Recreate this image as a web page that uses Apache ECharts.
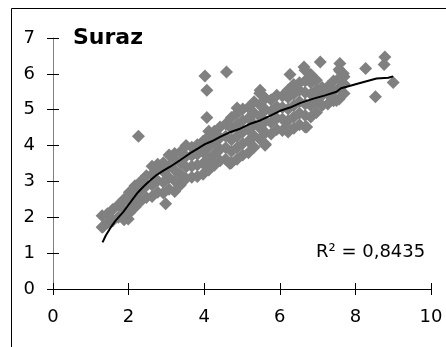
<!DOCTYPE html>
<html><head><meta charset="utf-8">
<script src="https://cdn.jsdelivr.net/npm/echarts@6/dist/echarts.min.js"></script>
<style>html,body{margin:0;padding:0;background:#fff}#c{width:446px;height:347px}</style>
</head><body><div id="c"></div>
<script>
const chartTitle = 'Suraz';
const r2Label = 'R\u00B2 = 0,8435';
const xTicks = [0, 2, 4, 6, 8, 10];
const yTicks = [0, 1, 2, 3, 4, 5, 6, 7];

const points = [
  [1.30,1.72],[1.30,2.04],[1.44,1.84],[1.44,2.10],[1.58,1.90],[1.58,2.22],[1.73,2.00],[1.73,2.34],
  [1.88,1.93],[1.88,2.20],[1.88,2.50],[1.99,1.95],[2.02,2.12],[2.02,2.42],[2.02,2.70],
  [2.17,2.28],[2.17,2.58],[2.17,2.88],[2.32,2.45],[2.32,2.75],[2.32,3.00],
  [2.47,2.55],[2.47,2.88],[2.47,3.16],[2.62,2.58],[2.62,2.90],[2.62,3.20],[2.62,3.42],
  [2.77,2.70],[2.77,3.02],[2.77,3.34],[2.77,3.48],[2.92,2.68],[2.92,2.98],[2.92,3.28],[2.92,3.52],[2.98,2.38],
  [3.07,2.78],[3.07,3.10],[3.07,3.42],[3.07,3.74],[3.22,2.72],[3.22,3.02],[3.22,3.32],[3.22,3.62],[3.22,3.78],
  [3.37,2.90],[3.37,3.20],[3.37,3.52],[3.37,3.82],[3.52,3.08],[3.52,3.40],[3.52,3.70],[3.52,4.00],
  [3.67,3.12],[3.67,3.42],[3.67,3.72],[3.67,3.95],[3.82,3.14],[3.82,3.46],[3.82,3.76],[3.82,4.02],
  [3.97,3.20],[3.97,3.50],[3.97,3.82],[3.97,4.12],[4.12,3.32],[4.12,3.64],[4.12,3.96],[4.12,4.26],[4.12,4.40],
  [4.27,3.45],[4.27,3.76],[4.27,4.08],[4.27,4.40],[4.42,3.58],[4.42,3.90],[4.42,4.22],[4.42,4.52],
  [4.57,3.62],[4.57,3.94],[4.57,4.26],[4.57,4.60],[4.72,3.52],[4.72,3.84],[4.72,4.16],[4.72,4.48],[4.72,4.78],
  [4.87,3.62],[4.87,3.94],[4.87,4.26],[4.87,4.58],[4.87,4.90],[4.87,5.05],
  [5.02,3.74],[5.02,4.06],[5.02,4.38],[5.02,4.70],[5.02,5.02],[5.17,3.80],[5.17,4.12],[5.17,4.44],[5.17,4.76],[5.17,5.06],
  [5.32,3.95],[5.32,4.27],[5.32,4.59],[5.32,4.91],[5.32,5.22],[5.47,4.18],[5.47,4.50],[5.47,4.82],[5.47,5.14],[5.47,5.46],
  [5.62,4.04],[5.62,4.36],[5.62,4.68],[5.62,5.00],[5.62,5.32],[5.77,4.32],[5.77,4.64],[5.77,4.96],[5.77,5.28],
  [5.92,4.45],[5.92,4.76],[5.92,5.08],[5.92,5.40],[6.07,4.42],[6.07,4.74],[6.07,5.06],[6.07,5.38],
  [6.22,4.38],[6.22,4.70],[6.22,5.02],[6.22,5.34],[6.22,5.55],[6.37,4.48],[6.37,4.80],[6.37,5.12],[6.37,5.44],[6.37,5.70],
  [6.52,4.58],[6.52,4.90],[6.52,5.22],[6.52,5.54],[6.52,5.75],[6.67,4.52],[6.67,4.84],[6.67,5.16],[6.67,5.48],[6.67,5.80],[6.67,6.10],
  [6.82,4.80],[6.82,5.12],[6.82,5.44],[6.82,5.76],[6.82,5.98],[6.97,4.92],[6.97,5.24],[6.97,5.56],[6.97,5.82],
  [7.12,5.12],[7.12,5.40],[7.12,5.62],[7.27,5.16],[7.27,5.44],[7.27,5.64],[7.42,5.25],[7.42,5.52],[7.42,5.80],
  [7.57,5.30],[7.57,5.60],[7.57,5.88],[7.57,6.12],[7.70,5.45],[7.70,5.72],[7.70,5.92],
  [2.26,4.26],[4.02,5.94],[4.07,5.54],[4.07,4.78],[4.59,6.05],[7.07,6.33],[8.27,6.15],[8.78,6.47],[8.76,6.26],
  [9.00,5.76],[8.53,5.36],[7.59,6.29],[7.59,6.08],[6.64,6.19],[6.27,5.98],[6.80,5.91],[7.68,6.01],
  [5.48,5.54],[5.61,4.01],[4.68,3.50],[6.18,4.52],[6.71,4.52],[7.50,5.26],[1.33,1.74]
];

// trendline as drawn (x, y)
const trend = [
  [1.31,1.30],[1.40,1.50],[1.51,1.69],[1.65,1.90],[1.86,2.15],[2.00,2.35],[2.12,2.52],[2.25,2.70],
  [2.39,2.85],[2.55,3.01],[2.74,3.18],[2.92,3.30],[3.10,3.41],[3.36,3.59],[3.62,3.78],[3.84,3.92],
  [4.02,4.04],[4.20,4.12],[4.42,4.24],[4.70,4.38],[4.95,4.47],[5.20,4.60],[5.48,4.70],[5.74,4.83],
  [6.01,4.97],[6.27,5.06],[6.55,5.19],[6.89,5.31],[7.20,5.40],[7.50,5.50],[7.62,5.60],[7.77,5.64],
  [8.10,5.74],[8.56,5.87],[8.87,5.89],[9.00,5.93]
];

const FONT = 'DejaVu Sans';
const chart = echarts.init(document.getElementById('c'), null, {renderer: 'canvas'});
const xMin = xTicks[0], xMax = xTicks[xTicks.length - 1], xStep = xTicks[1] - xTicks[0];
const yMin = yTicks[0], yMax = yTicks[yTicks.length - 1], yStep = yTicks[1] - yTicks[0];
const tickStyle = {color: '#000', width: 1};

chart.setOption({
  animation: false,
  backgroundColor: '#fff',
  title: [
    {text: chartTitle, left: 73, top: 27, padding: 0,
     textStyle: {fontFamily: FONT, fontWeight: 'bold', fontSize: 22, color: '#000'}},
    {text: r2Label, left: 316, top: 243, padding: 0,
     textStyle: {fontFamily: FONT, fontWeight: 'normal', fontSize: 18, color: '#000'}}
  ],
  grid: {left: 53, right: 15, top: 38, bottom: 58, containLabel: false},
  graphic: [{type: 'rect', shape: {x: 11.5, y: 8.5, width: 500, height: 500},
             style: {fill: 'none', stroke: '#000', lineWidth: 1}, z: -10, silent: true}],
  xAxis: [
    {type: 'value', min: xMin, max: xMax, interval: xStep, position: 'bottom',
     axisLine: {show: true, onZero: false, lineStyle: {color: '#000', width: 1}},
     axisTick: {show: true, length: 6, lineStyle: tickStyle},
     axisLabel: {margin: 19, fontFamily: FONT, fontSize: 18, color: '#000'},
     splitLine: {show: false}},
    {type: 'value', min: xMin, max: xMax, interval: xStep, position: 'bottom', offset: 0,
     axisLine: {show: false}, axisTick: {show: true, inside: true, length: 6, lineStyle: tickStyle},
     axisLabel: {show: false}, splitLine: {show: false}}
  ],
  yAxis: [
    {type: 'value', min: yMin, max: yMax, interval: yStep, position: 'left',
     axisLine: {show: true, onZero: false, lineStyle: {color: '#808080', width: 1}},
     axisTick: {show: true, length: 6, lineStyle: tickStyle},
     axisLabel: {margin: 18, fontFamily: FONT, fontSize: 18, color: '#000'},
     splitLine: {show: false}},
    {type: 'value', min: yMin, max: yMax, interval: yStep, position: 'left', offset: 0,
     axisLine: {show: false}, axisTick: {show: true, inside: true, length: 6, lineStyle: tickStyle},
     axisLabel: {show: false}, splitLine: {show: false}}
  ],
  series: [
    {type: 'scatter', xAxisIndex: 0, yAxisIndex: 0, data: points,
     symbol: 'diamond', symbolSize: 13, itemStyle: {color: '#808080', opacity: 1}, z: 2},
    {type: 'line', xAxisIndex: 0, yAxisIndex: 0, data: trend, showSymbol: false, symbol: 'none',
     smooth: false, lineStyle: {color: '#000', width: 2}, z: 3}
  ]
});
</script></body></html>
